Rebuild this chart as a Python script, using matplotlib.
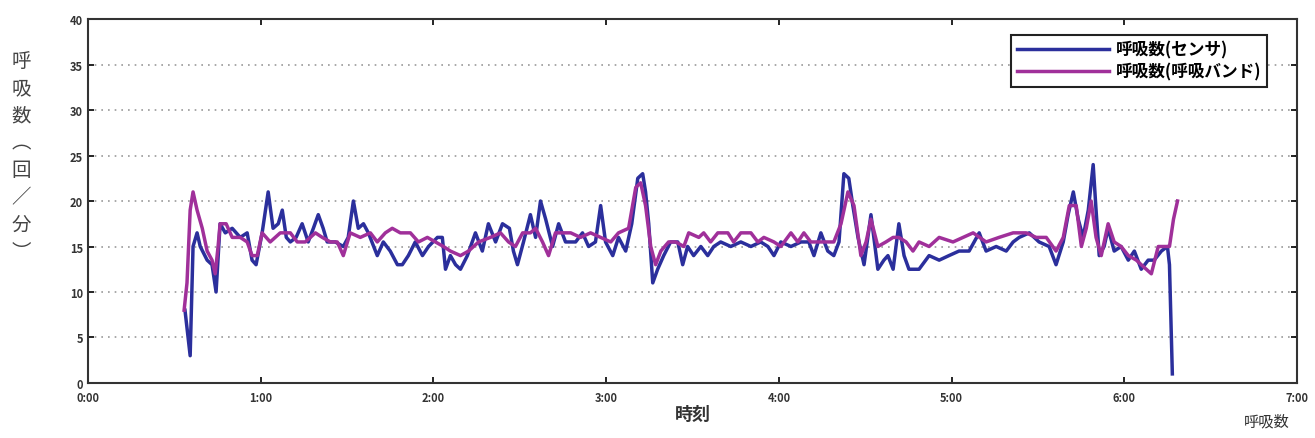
import matplotlib
matplotlib.use("Agg")
import matplotlib.pyplot as plt

plt.rcParams["font.family"] = ["Noto Sans CJK JP", "DejaVu Sans"]

# minutes since 0:00, breaths per minute
sensor_t = [33.7, 34.8, 35.5, 36.5, 37.9, 39.0, 41.4, 43.1, 44.5, 45.9, 47.7, 50.1, 52.9, 55.3,
            57.0, 58.4, 60.5, 62.6, 64.3, 66.1, 67.5, 68.9, 70.3, 72.3, 74.4, 76.5, 78.3, 80.0,
            81.7, 83.1, 85.9, 88.7, 90.4, 92.2, 93.9, 95.7, 97.4, 100.5, 102.6, 105.0, 107.5,
            109.2, 111.3, 113.7, 116.2, 118.3, 121.4, 123.1, 124.2, 125.9, 127.7, 129.4, 131.8,
            134.6, 137.0, 139.1, 141.6, 144.0, 146.4, 147.8, 149.2, 151.3, 153.7, 155.5, 157.2,
            159.0, 161.4, 163.5, 165.9, 169.4, 171.8, 173.9, 176.3, 178.1, 179.8, 182.3, 184.3,
            186.8, 188.9, 191.0, 192.7, 193.7, 194.8, 196.2, 197.9, 200.0, 202.4, 204.9, 206.6,
            208.3, 210.4, 212.9, 215.3, 217.4, 219.8, 223.3, 226.8, 230.3, 233.7, 236.2, 238.3,
            240.7, 244.2, 247.7, 250.4, 252.2, 254.6, 257.0, 259.1, 260.9, 262.6, 264.3, 265.7,
            267.5, 269.6, 272.0, 274.4, 276.5, 277.9, 279.7, 281.7, 283.5, 285.2, 288.7, 292.2,
            295.7, 299.1, 302.6, 306.1, 309.6, 312.0, 315.5, 319.0, 321.4, 323.5, 327.0, 330.4,
            333.9, 336.3, 338.8, 340.5, 342.3, 344.0, 345.7, 347.5, 349.2, 350.2, 351.3, 353.0,
            354.4, 356.5, 358.9, 361.4, 363.5, 365.9, 368.3, 370.4, 372.9, 375.0, 375.7, 376.7]
sensor_v = [8, 5, 3, 15, 16.5, 15, 13.5, 13, 10, 17.5, 16.5, 17, 16, 16.5,
            13.5, 13, 16.5, 21, 17, 17.5, 19, 16, 15.5, 16, 17.5, 15.5, 17, 18.5,
            17, 15.5, 15.5, 15, 16, 20, 17, 17.5, 16.5, 14, 15.5, 14.5, 13,
            13, 14, 15.5, 14, 15, 16, 16, 12.5, 14, 13, 12.5, 14,
            16.5, 14.5, 17.5, 15.5, 17.5, 17, 14.5, 13, 15.5, 18.5, 16, 20,
            18, 15, 17.5, 15.5, 15.5, 16.5, 15, 15.5, 19.5, 15.5, 14, 16,
            14.5, 17.5, 22.5, 23, 21, 17.5, 11, 12.5, 14, 15.5, 15.5, 13,
            15, 14, 15, 14, 15, 15.5, 15, 15.5, 15, 15.5, 15, 14,
            15.5, 15, 15.5, 15.5, 14, 16.5, 14.5, 14, 15.5, 23, 22.5, 19.5,
            16, 13, 18.5, 12.5, 13.5, 14, 12.5, 17.5, 14, 12.5, 12.5, 14,
            13.5, 14, 14.5, 14.5, 16.5, 14.5, 15, 14.5, 15.5, 16, 16.5, 15.5,
            15, 13, 15.5, 18.5, 21, 18, 16, 19, 24, 19, 14, 15,
            17, 14.5, 15, 13.5, 14.5, 12.5, 13.5, 13.5, 14.5, 15, 13, 1]

band_t = [33.4, 34.4, 35.5, 36.5, 37.9, 39.7, 41.4, 43.1, 44.2, 45.2, 45.9, 48.0, 50.1, 52.9,
          55.3, 57.0, 58.8, 60.5, 63.3, 66.8, 70.3, 72.7, 75.5, 79.0, 81.4, 84.2, 86.6, 88.7,
          91.1, 94.6, 98.1, 100.5, 103.3, 105.7, 108.5, 112.0, 114.8, 117.9, 120.7, 123.5,
          125.9, 129.4, 132.2, 135.7, 139.8, 143.3, 146.1, 148.5, 151.0, 153.7, 155.5, 157.9,
          160.0, 162.4, 167.7, 171.1, 174.6, 178.1, 181.6, 184.3, 187.8, 190.3, 192.0, 193.7,
          195.5, 197.2, 199.0, 201.7, 204.2, 207.0, 208.7, 212.2, 213.9, 216.3, 218.8, 222.3,
          224.3, 226.8, 230.3, 232.7, 234.8, 238.3, 240.7, 244.2, 246.6, 248.7, 251.1, 254.6,
          259.1, 261.6, 264.0, 266.1, 268.5, 270.3, 272.0, 274.4, 277.2, 279.7, 281.7, 284.2,
          286.6, 288.7, 292.2, 295.7, 300.5, 304.0, 307.5, 312.0, 316.5, 321.4, 325.9, 329.4,
          332.9, 336.3, 338.8, 340.9, 343.3, 345.1, 346.8, 348.5, 350.2, 352.0, 354.4, 356.5,
          358.9, 361.4, 364.2, 365.9, 369.4, 371.8, 374.4, 375.7, 377.1, 378.5]
band_v = [8, 11, 19, 21, 19, 17, 14.5, 13.5, 12, 15, 17.5, 17.5, 16, 16,
          15.5, 14, 14, 16.5, 15.5, 16.5, 16.5, 15.5, 15.5, 16.5, 16, 15.5, 15.5, 14,
          16.5, 16, 16.5, 15.5, 16.5, 17, 16.5, 16.5, 15.5, 16, 15.5, 15,
          14.5, 14, 14.5, 15.5, 16, 16.5, 15.5, 15, 16.5, 16.5, 17, 15.5,
          14, 16.5, 16.5, 16, 16.5, 16, 15.5, 16.5, 17, 21.5, 22, 19.5,
          15, 13, 14.5, 15.5, 15.5, 15, 16.5, 16, 16.5, 15.5, 16.5, 16.5,
          15.5, 16.5, 16.5, 15.5, 16, 15.5, 15, 16.5, 15.5, 16.5, 15.5, 15.5,
          15.5, 17.5, 21, 19.5, 14, 15.5, 18, 15, 15.5, 16, 16, 15.5,
          14.5, 15.5, 15, 16, 15.5, 16, 16.5, 15.5, 16, 16.5, 16.5, 16,
          16, 14.5, 16, 19.5, 19.5, 15, 17, 20, 16, 14, 17.5, 15.5,
          15, 14, 13.5, 13, 12, 15, 15, 15, 18, 20]

x_ticks = [0, 60, 120, 180, 240, 300, 360, 420]
x_labels = ["0:00", "1:00", "2:00", "3:00", "4:00", "5:00", "6:00", "7:00"]
y_ticks = [0, 5, 10, 15, 20, 25, 30, 35, 40]

fig = plt.figure(figsize=(13.15, 4.39), dpi=100)
ax = fig.add_axes([0.0669, 0.1253, 0.9194, 0.8291])

l1, = ax.plot(sensor_t, sensor_v, color="#2b2f9c", lw=2.5, label="呼吸数(センサ)")
l2, = ax.plot(band_t, band_v, color="#a0309a", lw=2.5, label="呼吸数(呼吸バンド)")

ax.set_xlim(0, 420)
ax.set_ylim(0, 40)
ax.set_xticks(x_ticks)
ax.set_xticklabels(x_labels)
ax.set_yticks(y_ticks)
ax.tick_params(direction="in", top=True, right=True, length=4, width=1.2,
               labelsize=8, labelcolor="#333333")
ax.tick_params(axis="x", pad=6)
for lab in ax.get_xticklabels() + ax.get_yticklabels():
    lab.set_fontweight("bold")
ax.yaxis.grid(True, linestyle=(0, (1, 3)), color="#999999", lw=1.2)
for s in ax.spines.values():
    s.set_linewidth(1.5)
    s.set_color("#333333")

ax.set_xlabel("時刻", fontsize=13, fontweight="bold", color="#333333", labelpad=0)

fig.text(0.016, 0.885, "呼\n吸\n数\n︵\n回\n／\n分\n︶", fontsize=14, color="#444444",
         va="top", ha="center", linespacing=1.4)

leg = ax.legend(handles=[l1, l2], loc="upper right", bbox_to_anchor=(0.982, 0.98),
                fancybox=False, edgecolor="#222222", framealpha=1, handlelength=5.5,
                borderpad=0.35, labelspacing=0.25, handletextpad=0.4,
                prop={"size": 12, "weight": "bold"})
leg.get_frame().set_linewidth(1.5)

fig.text(0.981, 0.02, "呼吸数", fontsize=11, color="#333333", ha="right", va="bottom")

fig.savefig("out.png", dpi=100)
